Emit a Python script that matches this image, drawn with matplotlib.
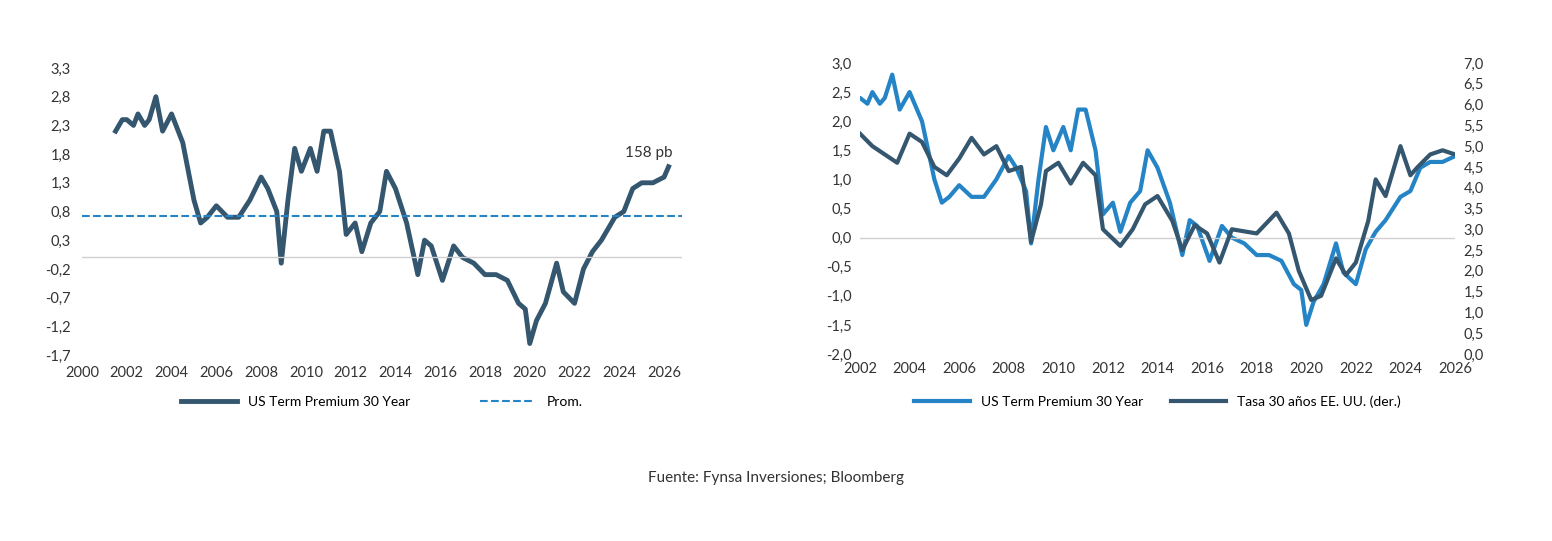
import numpy as np
import matplotlib.pyplot as plt
from matplotlib.ticker import FuncFormatter

plt.rcParams['font.family'] = ['Lato', 'DejaVu Sans']

# US Term Premium 30 Year (%), fecha decimal
tp_fecha = [2001.5, 2001.8, 2002.0, 2002.3, 2002.5, 2002.8, 2003.0, 2003.3, 2003.6, 2004.0,
            2004.5, 2005.0, 2005.3, 2005.6, 2006.0, 2006.5, 2007.0, 2007.5, 2008.0, 2008.3,
            2008.7, 2008.9, 2009.2, 2009.5, 2009.8, 2010.2, 2010.5, 2010.8, 2011.1, 2011.5,
            2011.8, 2012.2, 2012.5, 2012.9, 2013.3, 2013.6, 2014.0, 2014.5, 2015.0, 2015.3,
            2015.6, 2016.1, 2016.6, 2017.0, 2017.5, 2018.0, 2018.5, 2019.0, 2019.5, 2019.8,
            2020.0, 2020.3, 2020.7, 2021.2, 2021.5, 2022.0, 2022.4, 2022.8, 2023.2, 2023.8,
            2024.2, 2024.6, 2025.0, 2025.5, 2026.0, 2026.2]
tp_valor = [2.2, 2.4, 2.4, 2.3, 2.5, 2.3, 2.4, 2.8, 2.2, 2.5,
            2.0, 1.0, 0.6, 0.7, 0.9, 0.7, 0.7, 1.0, 1.4, 1.2,
            0.8, -0.1, 1.0, 1.9, 1.5, 1.9, 1.5, 2.2, 2.2, 1.5,
            0.4, 0.6, 0.1, 0.6, 0.8, 1.5, 1.2, 0.6, -0.3, 0.3,
            0.2, -0.4, 0.2, 0.0, -0.1, -0.3, -0.3, -0.4, -0.8, -0.9,
            -1.5, -1.1, -0.8, -0.1, -0.6, -0.8, -0.2, 0.1, 0.3, 0.7,
            0.8, 1.2, 1.3, 1.3, 1.4, 1.58]
promedio = 0.72

# Tasa 30 años EE. UU. (%)
tasa_fecha = [2002.0, 2002.5, 2003.0, 2003.5, 2004.0, 2004.5, 2005.0, 2005.5, 2006.0, 2006.5,
              2007.0, 2007.5, 2008.0, 2008.5, 2008.9, 2009.3, 2009.5, 2010.0, 2010.5, 2011.0,
              2011.5, 2011.8, 2012.5, 2013.0, 2013.5, 2014.0, 2014.6, 2015.0, 2015.5, 2016.0,
              2016.5, 2017.0, 2018.0, 2018.8, 2019.3, 2019.7, 2020.2, 2020.6, 2021.2, 2021.6,
              2022.0, 2022.5, 2022.8, 2023.2, 2023.8, 2024.2, 2024.5, 2025.0, 2025.5, 2026.0]
tasa_valor = [5.3, 5.0, 4.8, 4.6, 5.3, 5.1, 4.5, 4.3, 4.7, 5.2,
              4.8, 5.0, 4.4, 4.5, 2.7, 3.6, 4.4, 4.6, 4.1, 4.6,
              4.3, 3.0, 2.6, 3.0, 3.6, 3.8, 3.2, 2.5, 3.1, 2.9,
              2.2, 3.0, 2.9, 3.4, 2.9, 2.0, 1.3, 1.4, 2.3, 1.9,
              2.2, 3.2, 4.2, 3.8, 5.0, 4.3, 4.5, 4.8, 4.9, 4.8]

oscuro = '#34566f'
claro = '#2484c6'
texto = '#333333'
coma = lambda d: FuncFormatter(lambda v, p: f'{v:.{d}f}'.replace('.', ','))

fig = plt.figure(figsize=(15.52, 5.41), dpi=100)

# Panel izquierdo
ax1 = fig.add_axes([82/1552, 1-355/541, 600/1552, 287/541])
ax1.plot(tp_fecha, tp_valor, color=oscuro, lw=3.5, label='US Term Premium 30 Year')
ax1.axhline(promedio, color=claro, lw=1.5, ls='--', label='Prom.')
ax1.axhline(0, color='#d0d0d0', lw=1)
ax1.set_xlim(2000, 2026.8)
ax1.set_ylim(-1.7, 3.3)
ax1.set_xticks(range(2000, 2027, 2))
ax1.set_yticks(np.arange(-1.7, 3.31, 0.5))
ax1.yaxis.set_major_formatter(coma(1))
ax1.text(2025.3, 1.75, '158 pb', fontsize=11, color=texto, ha='center')
for s in ax1.spines.values():
    s.set_visible(False)
ax1.tick_params(length=0, labelsize=10.5, colors=texto, pad=8)
ax1.legend(loc='upper center', bbox_to_anchor=(0.5, -0.1), ncol=2, frameon=False,
           fontsize=10, columnspacing=5, handlelength=4)

# Panel derecho
ax2 = fig.add_axes([860/1552, 1-354/541, 595/1552, 291/541])
ax3 = ax2.twinx()
ax2.plot(tp_fecha, tp_valor, color=claro, lw=3, label='US Term Premium 30 Year')
ax3.plot(tasa_fecha, tasa_valor, color=oscuro, lw=3, label='Tasa 30 años EE. UU. (der.)')
ax2.axhline(0, color='#d0d0d0', lw=1)
ax2.set_xlim(2002, 2026)
ax2.set_ylim(-2, 3)
ax3.set_ylim(0, 7)
ax2.set_xticks(range(2002, 2027, 2))
ax2.set_yticks(np.arange(-2, 3.01, 0.5))
ax3.set_yticks(np.arange(0, 7.01, 0.5))
ax2.yaxis.set_major_formatter(coma(1))
ax3.yaxis.set_major_formatter(coma(1))
for a in (ax2, ax3):
    for s in a.spines.values():
        s.set_visible(False)
    a.tick_params(length=0, labelsize=10.5, colors=texto, pad=6)
h1, l1 = ax2.get_legend_handles_labels()
h2, l2 = ax3.get_legend_handles_labels()
ax2.legend(h1 + h2, l1 + l2, loc='upper center', bbox_to_anchor=(0.5, -0.1), ncol=2,
           frameon=False, fontsize=10, columnspacing=2, handlelength=4)

fig.text(0.5, 1-478/541, 'Fuente: Fynsa Inversiones; Bloomberg', ha='center', va='center',
         fontsize=11, color=texto)

fig.savefig('out.png', dpi=100, facecolor='white')
